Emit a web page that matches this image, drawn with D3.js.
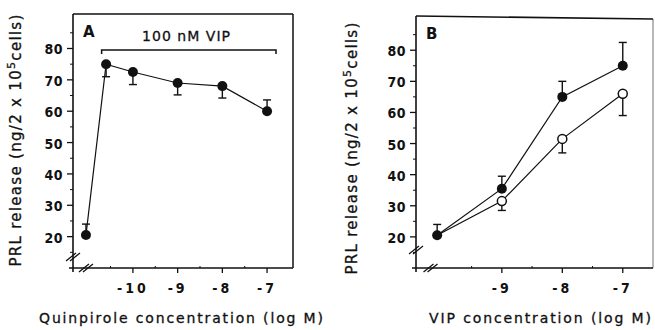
<!DOCTYPE html>
<html>
<head>
<meta charset="utf-8">
<script src="https://cdn.jsdelivr.net/npm/d3@7"></script>
<style>
  body { margin: 0; background: #fff; }
  svg { display: block; }
  text { fill: #111; }
</style>
</head>
<body>
<div id="chart"></div>
<script>
// ---- data ----
const yTicks = [20, 30, 40, 50, 60, 70, 80];

// panel A: quinpirole dose response in presence of 100 nM VIP
const ctrlPrlA = 20.5;
const ctrlErrA = 3.5;
const quinLogM = [-10.6, -10, -9, -8, -7];
const quinPrl = [75, 72.5, 69, 68, 60];
const quinErrDown = [4, 4, 3.8, 3.8, 0];
const quinErrUp = [0, 0, 0, 0, 3.6];
const quinTicks = [-10, -9, -8, -7];

// panel B: VIP dose response, alone (filled) and with quinpirole (open)
const ctrlPrlB = 20.5;
const ctrlErrB = 3.5;
const vipLogM = [-9, -8, -7];
const vipAlone = [35.5, 65, 75];
const vipAloneErrUp = [4, 5, 7.5];
const vipQuin = [31.5, 51.5, 66];
const vipQuinErrDown = [3, 4.5, 7];
const vipTicks = [-9, -8, -7];

const W = 655;
const H = 330;
const BOTTOM = 268;

const svg = d3.select('#chart').append('svg').attr('width', W).attr('height', H);

const drawPanel = (p) => {
  const x = d3.scaleLinear().domain(p.xDomain).range([p.left, p.right]);
  const y = d3.scaleLinear().domain([10, 91]).range([BOTTOM, p.top]);
  const g = svg.append('g');

  // frame: top and right
  g.append('line').attr('x1', p.left).attr('y1', p.top).attr('x2', p.right).attr('y2', p.top + p.topSlope)
    .attr('stroke', '#111').attr('stroke-width', 1.6);
  g.append('line').attr('x1', p.right).attr('y1', p.top + p.topSlope).attr('x2', p.right).attr('y2', BOTTOM)
    .attr('stroke', '#111').attr('stroke-opacity', p.rightOpacity).attr('stroke-width', 1.5);

  // axes
  g.append('line').attr('x1', p.left).attr('x2', p.left).attr('y1', p.top).attr('y2', BOTTOM + 4)
    .attr('stroke', '#111').attr('stroke-width', 1.6);
  g.append('line').attr('x1', p.left - 4).attr('x2', p.right).attr('y1', BOTTOM).attr('y2', BOTTOM)
    .attr('stroke', '#111').attr('stroke-width', 1.6);

  g.selectAll('.ymaj').data(yTicks).enter().append('line')
    .attr('x1', p.left - 6).attr('x2', p.left)
    .attr('y1', d => y(d)).attr('y2', d => y(d))
    .attr('stroke', '#111').attr('stroke-width', 1.3);
  g.selectAll('.ymin').data(d3.range(15, 90, 10)).enter().append('line')
    .attr('x1', p.left - 3).attr('x2', p.left)
    .attr('y1', d => y(d)).attr('y2', d => y(d))
    .attr('stroke', '#111').attr('stroke-width', 1);
  g.selectAll('.ylab').data(yTicks).enter().append('text')
    .attr('x', p.left - 10).attr('y', d => y(d) + 1)
    .attr('text-anchor', 'end').attr('dominant-baseline', 'central')
    .style('font', 'bold 14px "DejaVu Sans Condensed", "DejaVu Sans"')
    .style('letter-spacing', '0.5px')
    .text(d => d);

  // x ticks
  g.selectAll('.xmaj').data(p.xTicks).enter().append('line')
    .attr('x1', d => x(d)).attr('x2', d => x(d))
    .attr('y1', BOTTOM).attr('y2', BOTTOM + 5)
    .attr('stroke', '#111').attr('stroke-width', 1.3);
  g.selectAll('.xmin').data(p.xTicks.map(d => d - 0.5)).enter().append('line')
    .attr('x1', d => x(d)).attr('x2', d => x(d))
    .attr('y1', BOTTOM - 2).attr('y2', BOTTOM)
    .attr('stroke', '#111').attr('stroke-width', 1);
  g.selectAll('.xlab').data(p.xTicks).enter().append('text')
    .attr('x', d => x(d)).attr('y', BOTTOM + 25)
    .attr('text-anchor', 'middle')
    .style('font', 'bold 14px "DejaVu Sans Condensed", "DejaVu Sans"')
    .style('letter-spacing', '3px')
    .text(d => '-' + Math.abs(d));

  // axis breaks
  const brk = (cx, cy) => {
    [-2, 2].forEach(o => {
      g.append('line')
        .attr('x1', cx - 5 + o).attr('y1', cy + 4).attr('x2', cx + 5 + o).attr('y2', cy - 4)
        .attr('stroke', '#111').attr('stroke-width', 1.3);
    });
  };
  brk(p.left, p.yBreak);
  brk(x(p.xBreak), BOTTOM);

  // axis titles
  g.append('text')
    .attr('x', p.titleX).attr('y', 323)
    .attr('text-anchor', 'middle')
    .attr('textLength', p.titleLen).attr('lengthAdjust', 'spacing')
    .style('font', '14px "DejaVu Sans"')
    .style('stroke', '#111').style('stroke-width', 0.3)
    .text(p.xTitle);

  const yt = g.append('text')
    .attr('transform', `translate(${p.yTitleX},${p.yTitleY}) rotate(-90)`)
    .attr('text-anchor', 'middle')
    .style('font', '15px "DejaVu Sans"')
    .style('stroke', '#111').style('stroke-width', 0.3)
    .style('letter-spacing', '1.3px');
  yt.append('tspan').text('PRL release (ng/2 x 10');
  yt.append('tspan').attr('dy', -6).style('font-size', '11px').text('5');
  yt.append('tspan').attr('dy', 6).text('cells)');

  // panel letter
  g.append('text').attr('x', p.left + 10).attr('y', p.top + 23)
    .style('font', 'bold 15px "DejaVu Sans"').text(p.letter);

  return { g, x, y };
};

const errBars = (g, xs, ys, down, up, x, y) => {
  xs.forEach((xv, i) => {
    const lo = ys[i] - down[i];
    const hi = ys[i] + up[i];
    g.append('line').attr('x1', x(xv)).attr('x2', x(xv)).attr('y1', y(lo)).attr('y2', y(hi))
      .attr('stroke', '#111').attr('stroke-width', 1.4);
    [down[i] > 0 ? lo : null, up[i] > 0 ? hi : null].filter(v => v !== null).forEach(v => {
      g.append('line').attr('x1', x(xv) - 4).attr('x2', x(xv) + 4).attr('y1', y(v)).attr('y2', y(v))
        .attr('stroke', '#111').attr('stroke-width', 1.4);
    });
  });
};

const line = (x, y) => d3.line().x(d => x(d[0])).y(d => y(d[1]));

// ---- panel A ----
const a = drawPanel({
  left: 73, right: 293, top: 14, topSlope: 0, rightOpacity: 1,
  xDomain: [-11.34, -6.42], xTicks: quinTicks,
  yBreak: 257, xBreak: -11.05,
  titleX: 181, titleLen: 284, xTitle: 'Quinpirole concentration (log M)',
  yTitleX: 21, yTitleY: 140, letter: 'A'
});
const ctrlXA = -11.05;
const ptsA = [[ctrlXA, ctrlPrlA]].concat(quinLogM.map((d, i) => [d, quinPrl[i]]));
errBars(a.g, [ctrlXA], [ctrlPrlA], [0], [ctrlErrA], a.x, a.y);
errBars(a.g, quinLogM, quinPrl, quinErrDown, quinErrUp, a.x, a.y);
a.g.append('path').datum(ptsA).attr('d', line(a.x, a.y))
  .attr('fill', 'none').attr('stroke', '#111').attr('stroke-width', 1.2);
a.g.selectAll('.dot').data(ptsA).enter().append('circle')
  .attr('cx', d => a.x(d[0])).attr('cy', d => a.y(d[1])).attr('r', 5).attr('fill', '#111');

// VIP bracket
const bx0 = a.x(-10.7), bx1 = a.x(-6.8), by = 50;
a.g.append('path').attr('d', `M${bx0},${by + 4}L${bx0},${by}L${bx1},${by}L${bx1},${by + 4}`)
  .attr('fill', 'none').attr('stroke', '#111').attr('stroke-width', 1.5);
a.g.append('text').attr('x', 186).attr('y', 41).attr('text-anchor', 'middle')
  .attr('textLength', 88).attr('lengthAdjust', 'spacing')
  .style('font', '14px "DejaVu Sans"').style('stroke', '#111').style('stroke-width', 0.3)
  .text('100 nM  VIP');

// ---- panel B ----
const b = drawPanel({
  left: 416, right: 653, top: 16, topSlope: 3, rightOpacity: 0.4,
  xDomain: [-10.42, -6.5], xTicks: vipTicks,
  yBreak: 250, xBreak: -10.18,
  titleX: 540, titleLen: 222, xTitle: 'VIP concentration (log M)',
  yTitleX: 357, yTitleY: 148, letter: 'B'
});
const ctrlXB = -10.07;
const ptsAlone = [[ctrlXB, ctrlPrlB]].concat(vipLogM.map((d, i) => [d, vipAlone[i]]));
const ptsQuin = [[ctrlXB, ctrlPrlB]].concat(vipLogM.map((d, i) => [d, vipQuin[i]]));
errBars(b.g, [ctrlXB], [ctrlPrlB], [0], [ctrlErrB], b.x, b.y);
errBars(b.g, vipLogM, vipAlone, [0, 0, 0], vipAloneErrUp, b.x, b.y);
errBars(b.g, vipLogM, vipQuin, vipQuinErrDown, [0, 0, 0], b.x, b.y);
[ptsAlone, ptsQuin].forEach(pts => {
  b.g.append('path').datum(pts).attr('d', line(b.x, b.y))
    .attr('fill', 'none').attr('stroke', '#111').attr('stroke-width', 1.2);
});
b.g.selectAll('.open').data(ptsQuin.slice(1)).enter().append('circle')
  .attr('cx', d => b.x(d[0])).attr('cy', d => b.y(d[1])).attr('r', 4.5)
  .attr('fill', '#fff').attr('stroke', '#111').attr('stroke-width', 1.5);
b.g.selectAll('.fill').data(ptsAlone).enter().append('circle')
  .attr('cx', d => b.x(d[0])).attr('cy', d => b.y(d[1])).attr('r', 5).attr('fill', '#111');
</script>
</body>
</html>
